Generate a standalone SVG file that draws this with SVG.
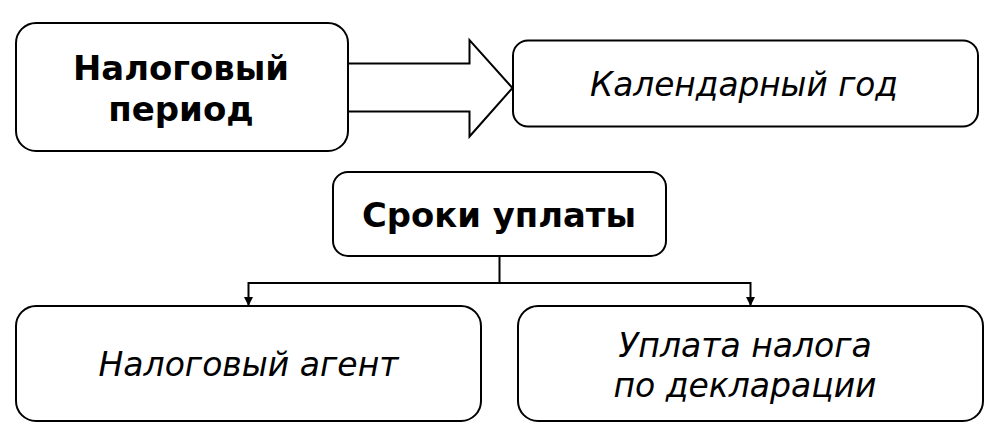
<svg xmlns="http://www.w3.org/2000/svg" width="1006" height="444" viewBox="0 0 1006 444">
<defs>
<marker id="ah" viewBox="0 0 10 10" refX="10" refY="5" markerWidth="9" markerHeight="9" orient="auto" markerUnits="userSpaceOnUse">
<path d="M0,0 L10,5 L0,10 z" fill="#000"/>
</marker>
</defs>
<style>
.box{fill:#fff;stroke:#000;stroke-width:2}
.b{font-family:"DejaVu Sans",Verdana,sans-serif;font-weight:bold;font-size:34px;fill:#000;text-anchor:middle}
.i{font-family:"DejaVu Sans",Verdana,sans-serif;font-style:italic;font-size:33px;fill:#000;text-anchor:middle}
.ln{fill:none;stroke:#000;stroke-width:2}
</style>
<rect width="1006" height="444" fill="#fff"/>
<g id="connectors">
<path class="ln" d="M348,63.5 H469.5 V40 L512.5,88 L469.5,136.5 V111.5 H348" fill="#fff"/>
<path class="ln" d="M499.5,256 V283 M248.5,283 H750.5" />
<path class="ln" d="M248.5,282 V306" marker-end="url(#ah)"/>
<path class="ln" d="M750.5,282 V306" marker-end="url(#ah)"/>
</g>
<g id="n-period">
<rect class="box" x="16" y="23" width="332" height="128" rx="20"/>
<text class="b" x="181" y="80" textLength="216" lengthAdjust="spacingAndGlyphs">Налоговый</text>
<text class="b" x="181" y="121">период</text>
</g>
<g id="n-year">
<rect class="box" x="513" y="40.5" width="465" height="86" rx="15"/>
<text class="i" x="744" y="96" textLength="308" lengthAdjust="spacingAndGlyphs">Календарный год</text>
</g>
<g id="n-sroki">
<rect class="box" x="333" y="172" width="333" height="84" rx="15"/>
<text class="b" x="499" y="227" textLength="274" lengthAdjust="spacingAndGlyphs">Сроки уплаты</text>
</g>
<g id="n-agent">
<rect class="box" x="16" y="306" width="465" height="115" rx="20"/>
<text class="i" x="248.5" y="376">Налоговый агент</text>
</g>
<g id="n-decl">
<rect class="box" x="518" y="306" width="465" height="115" rx="20"/>
<text class="i" x="745" y="357">Уплата налога</text>
<text class="i" x="745" y="397">по декларации</text>
</g>
</svg>
